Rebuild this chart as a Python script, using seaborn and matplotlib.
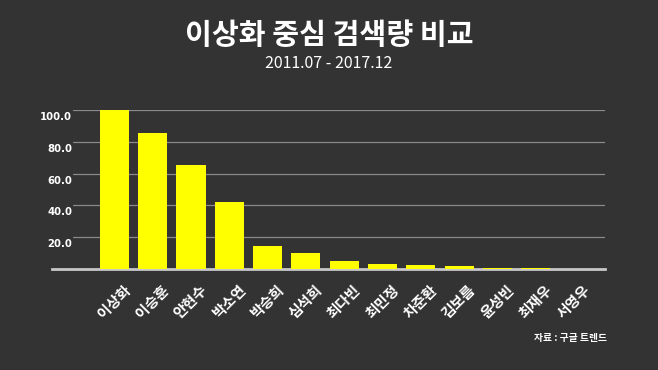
import matplotlib
matplotlib.use("Agg")
import matplotlib.pyplot as plt
import matplotlib.transforms as mtransforms
import seaborn as sns
import pandas as pd

# data
names = ['이상화', '이승훈', '안현수', '박소연', '박승희', '심석희', '최다빈',
         '최민정', '차준환', '김보름', '윤성빈', '최재우', '서영우']
values = [100.0, 85.5, 65.4, 42.1, 14.7, 10.3, 5.0, 3.0, 2.7, 1.9, 0.8, 0.6, 0.2]
y_ticks = [20, 40, 60, 80, 100]
y_labels = ['20.0', '40.0', '60.0', '80.0', '100.0']

title = '이상화 중심 검색량 비교'
subtitle = '2011.07 - 2017.12'
source = '자료 : 구글 트렌드'

bg = '#333333'
sns.set_theme(style="dark")
plt.rcParams['font.family'] = ['Noto Sans CJK KR', 'DejaVu Sans']

df = pd.DataFrame({'name': names, 'value': values})

fig = plt.figure(figsize=(6.58, 3.70), dpi=100, facecolor=bg)
ax = fig.add_axes([52 / 658, 1 - 269 / 370, (605 - 52) / 658, (269 - 110) / 370])
ax.set_facecolor(bg)

sns.barplot(data=df, x='name', y='value', color='#FFFF00', width=0.76,
            saturation=1, linewidth=0, ax=ax, zorder=3)

ax.set_xlim(-1.63, 12.81)
ax.set_ylim(0, 100)

for s in ['top', 'right', 'left']:
    ax.spines[s].set_visible(False)
ax.spines['bottom'].set_color('#c8c8c8')
ax.spines['bottom'].set_linewidth(2)
ax.spines['bottom'].set_zorder(2)

# gridlines start a bit right of the baseline start
for t in y_ticks:
    ax.axhline(t, xmin=(73 - 52) / (605 - 52), xmax=1, color='#8a8a8a', lw=0.9, zorder=1)

ax.set_yticks([])
ax.set_xlabel('')
ax.set_ylabel('')
ax.tick_params(axis='x', length=0, pad=9)

offset = mtransforms.ScaledTranslation(0, -7 / 100, fig.dpi_scale_trans)
trans = mtransforms.blended_transform_factory(ax.transAxes, ax.transData) + offset
for t, lab in zip(y_ticks, y_labels):
    ax.text((72 - 52) / (605 - 52), t, lab, transform=trans, ha='right', va='center',
            color='white', fontsize=7.3, fontweight='bold', family=['DejaVu Sans'])

ax.set_xticks(range(len(names)))
ax.set_xticklabels(names, rotation=45, ha='right', va='top', rotation_mode='anchor',
                   color='white', fontsize=10.5, fontweight='bold')
xoff = mtransforms.ScaledTranslation(8 / 100, 0, fig.dpi_scale_trans)
for lab in ax.get_xticklabels():
    lab.set_transform(lab.get_transform() + xoff)

fig.text(0.5, 1 - 35 / 370, title, ha='center', va='center', color='white',
         fontsize=21, fontweight='bold')
fig.text(0.5, 1 - 64 / 370, subtitle, ha='center', va='center', color='white',
         fontsize=11.5, fontweight='light')
fig.text(607 / 658, 1 - 338 / 370, source, ha='right', va='center', color='white',
         fontsize=7, fontweight='bold')

fig.savefig('out.png', dpi=100, facecolor=bg)
